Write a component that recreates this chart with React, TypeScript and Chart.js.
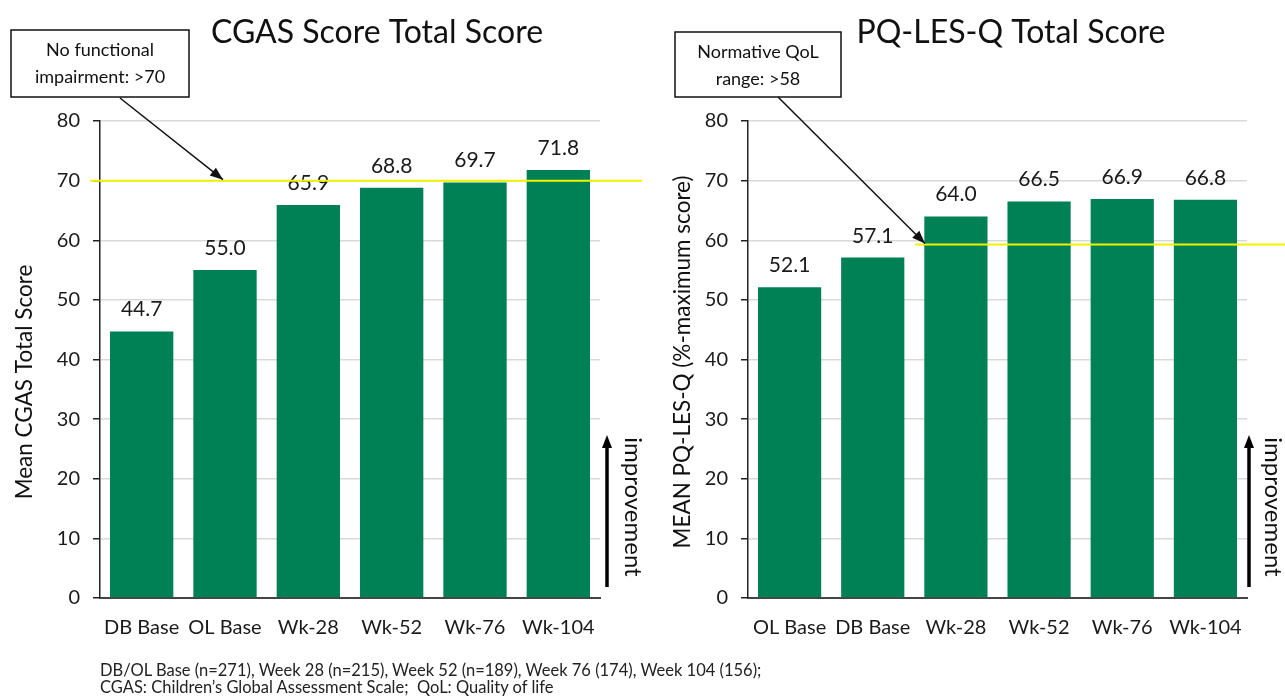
import React, { useEffect, useRef } from "react";
import { Chart, registerables } from "chart.js";

Chart.register(...registerables);

// ---------- data ----------
const cgasCategories = ["DB Base", "OL Base", "Wk-28", "Wk-52", "Wk-76", "Wk-104"];
const cgasValues = [44.7, 55.0, 65.9, 68.8, 69.7, 71.8];
const cgasThreshold = 70;
const cgasTitle = "CGAS Score Total Score";
const cgasAxisTitle = "Mean CGAS Total Score";
const cgasNoteLines = ["No functional", "impairment: >70"];

const pqCategories = ["OL Base", "DB Base", "Wk-28", "Wk-52", "Wk-76", "Wk-104"];
const pqValues = [52.1, 57.1, 64.0, 66.5, 66.9, 66.8];
const pqThreshold = 59.3;
const pqTitle = "PQ-LES-Q Total Score";
const pqAxisTitle = "MEAN PQ-LES-Q (%-maximum score)";
const pqNoteLines = ["Normative QoL", "range: >58"];

const yMin = 0;
const yMax = 80;
const yStep = 10;
const improvementLabel = "improvement";
const footnoteLines = [
  "DB/OL Base (n=271), Week 28 (n=215), Week 52 (n=189), Week 76 (174), Week 104 (156);",
  "CGAS: Children\u2019s Global Assessment Scale;  QoL: Quality of life",
];

const FONT = "Lato, 'Open Sans', sans-serif";
const BAR_COLOR = "#008055";
const TEXT_COLOR = "#1a1a1a";
const YELLOW = "#f2f200";

type PanelCfg = {
  categories: string[];
  values: number[];
  threshold: number;
  title: string;
  axisTitle: string;
  noteLines: string[];
  width: number;
  plotLeft: number;
  plotRight: number;
  titleX: number;
  axisTitleX: number;
  axisTitleY: number;
  box: { x: number; y: number; w: number; h: number };
  arrowStart: { x: number; y: number };
  arrowTipX: number;
  lineStartX: number;
  improveX: number;
  improveTextX: number;
};

const PLOT_TOP = 121;
const PLOT_BOTTOM = 598;
const H = 696;

function drawArrowHead(ctx: CanvasRenderingContext2D, fx: number, fy: number, tx: number, ty: number, len: number, wid: number) {
  const ang = Math.atan2(ty - fy, tx - fx);
  ctx.beginPath();
  ctx.moveTo(tx, ty);
  ctx.lineTo(tx - len * Math.cos(ang) + wid * Math.sin(ang), ty - len * Math.sin(ang) - wid * Math.cos(ang));
  ctx.lineTo(tx - len * Math.cos(ang) - wid * Math.sin(ang), ty - len * Math.sin(ang) + wid * Math.cos(ang));
  ctx.closePath();
  ctx.fill();
}

function Panel({ cfg, left }: { cfg: PanelCfg; left: number }) {
  const ref = useRef<HTMLCanvasElement | null>(null);
  useEffect(() => {
    if (!ref.current) return;
    const overlay = {
      id: "overlay",
      afterDatasetsDraw(chart: any) {
        const { ctx, scales } = chart;
        const x = scales.x;
        const y = scales.y;
        ctx.save();
        // data labels
        ctx.font = `21px ${FONT}`;
        ctx.fillStyle = TEXT_COLOR;
        ctx.textAlign = "center";
        ctx.textBaseline = "alphabetic";
        cfg.values.forEach((v, i) => {
          ctx.fillText(v.toFixed(1), x.getPixelForValue(i), y.getPixelForValue(v) - 15);
        });
        // threshold line
        const ty = y.getPixelForValue(cfg.threshold);
        ctx.strokeStyle = YELLOW;
        ctx.lineWidth = 2;
        ctx.beginPath();
        ctx.moveTo(cfg.lineStartX, ty);
        ctx.lineTo(cfg.width, ty);
        ctx.stroke();
        // title
        ctx.font = `32px ${FONT}`;
        ctx.fillStyle = "#111";
        ctx.textAlign = "center";
        ctx.fillText(cfg.title, cfg.titleX, 43);
        // note box
        const b = cfg.box;
        ctx.fillStyle = "#fff";
        ctx.fillRect(b.x, b.y, b.w, b.h);
        ctx.strokeStyle = "#111";
        ctx.lineWidth = 1.5;
        ctx.strokeRect(b.x, b.y, b.w, b.h);
        ctx.fillStyle = "#111";
        ctx.font = `18px ${FONT}`;
        ctx.fillText(cfg.noteLines[0], b.x + b.w / 2, b.y + 26);
        ctx.fillText(cfg.noteLines[1], b.x + b.w / 2, b.y + 53);
        // arrow to threshold
        const tipX = cfg.arrowTipX;
        ctx.strokeStyle = "#111";
        ctx.lineWidth = 1.5;
        ctx.beginPath();
        ctx.moveTo(cfg.arrowStart.x, cfg.arrowStart.y);
        ctx.lineTo(tipX, ty - 1);
        ctx.stroke();
        drawArrowHead(ctx, cfg.arrowStart.x, cfg.arrowStart.y, tipX, ty - 1, 13, 5);
        // axis title
        ctx.save();
        ctx.translate(cfg.axisTitleX, cfg.axisTitleY);
        ctx.rotate(-Math.PI / 2);
        ctx.font = `22.5px ${FONT}`;
        ctx.textAlign = "center";
        ctx.textBaseline = "middle";
        ctx.fillText(cfg.axisTitle, 0, 0);
        ctx.restore();
        // improvement arrow
        ctx.strokeStyle = "#000";
        ctx.lineWidth = 3.5;
        ctx.beginPath();
        ctx.moveTo(cfg.improveX, 587);
        ctx.lineTo(cfg.improveX, 446);
        ctx.stroke();
        ctx.fillStyle = "#000";
        ctx.beginPath();
        ctx.moveTo(cfg.improveX, 435);
        ctx.lineTo(cfg.improveX - 5, 448);
        ctx.lineTo(cfg.improveX + 5, 448);
        ctx.closePath();
        ctx.fill();
        ctx.save();
        ctx.translate(cfg.improveTextX, 507);
        ctx.rotate(Math.PI / 2);
        ctx.font = `24px ${FONT}`;
        ctx.fillStyle = "#111";
        ctx.textAlign = "center";
        ctx.textBaseline = "middle";
        ctx.fillText(improvementLabel, 0, 0);
        ctx.restore();
        ctx.restore();
      },
    };

    const chart = new Chart(ref.current, {
      type: "bar",
      data: {
        labels: cfg.categories,
        datasets: [
          {
            data: cfg.values,
            backgroundColor: BAR_COLOR,
            borderWidth: 0,
            barPercentage: 0.76,
            categoryPercentage: 1,
          },
        ],
      },
      options: {
        responsive: false,
        animation: false,
        events: [],
        layout: {
          padding: { left: 0, top: PLOT_TOP, right: cfg.width - cfg.plotRight, bottom: H - PLOT_BOTTOM - 60 },
        },
        plugins: { legend: { display: false }, tooltip: { enabled: false }, title: { display: false } },
        scales: {
          x: {
            grid: { display: false, drawTicks: false },
            border: { display: true, color: "#444", width: 2 },
            ticks: { color: TEXT_COLOR, font: { family: FONT, size: 20 }, padding: 18, maxRotation: 0, autoSkip: false },
            afterFit: (s: any) => {
              s.height = 60;
            },
          },
          y: {
            min: yMin,
            max: yMax,
            ticks: { stepSize: yStep, color: TEXT_COLOR, font: { family: FONT, size: 20 }, padding: 13 },
            grid: { color: "#d9d9d9", lineWidth: 1.5, tickColor: "#222", tickLength: 7 },
            border: { display: true, color: "#222", width: 1.5 },
            afterFit: (s: any) => {
              s.width = cfg.plotLeft;
            },
          },
        },
      },
      plugins: [overlay],
    } as any);
    return () => chart.destroy();
  }, [cfg]);
  return (
    <canvas
      ref={ref}
      width={cfg.width}
      height={H}
      style={{ position: "absolute", left, top: 0, width: cfg.width, height: H }}
    />
  );
}

const leftCfg: PanelCfg = {
  categories: cgasCategories,
  values: cgasValues,
  threshold: cgasThreshold,
  title: cgasTitle,
  axisTitle: cgasAxisTitle,
  noteLines: cgasNoteLines,
  width: 642,
  plotLeft: 100,
  plotRight: 600,
  titleX: 377,
  axisTitleX: 25,
  axisTitleY: 382,
  box: { x: 11, y: 30, w: 178, h: 67 },
  arrowStart: { x: 120, y: 98 },
  arrowTipX: 223,
  lineStartX: 90,
  improveX: 607,
  improveTextX: 633,
};

const rightCfg: PanelCfg = {
  categories: pqCategories,
  values: pqValues,
  threshold: pqThreshold,
  title: pqTitle,
  axisTitle: pqAxisTitle,
  noteLines: pqNoteLines,
  width: 643,
  plotLeft: 106,
  plotRight: 605,
  titleX: 369,
  axisTitleX: 41,
  axisTitleY: 362,
  box: { x: 33, y: 32, w: 166, h: 65 },
  arrowStart: { x: 136, y: 97 },
  arrowTipX: 283,
  lineStartX: 273,
  improveX: 607,
  improveTextX: 631,
};

export default function App() {
  return (
    <div style={{ position: "fixed", left: 0, top: 0, width: 1285, height: 696, background: "#fff", overflow: "hidden" }}>
      <Panel cfg={leftCfg} left={0} />
      <Panel cfg={rightCfg} left={642} />
      <div
        style={{
          position: "absolute",
          left: 100,
          top: 662,
          fontFamily: FONT,
          fontSize: 16.5,
          lineHeight: "17px",
          color: "#222",
          whiteSpace: "pre",
        }}
      >
        {footnoteLines.map((l, i) => (
          <div key={i}>{l}</div>
        ))}
      </div>
    </div>
  );
}
